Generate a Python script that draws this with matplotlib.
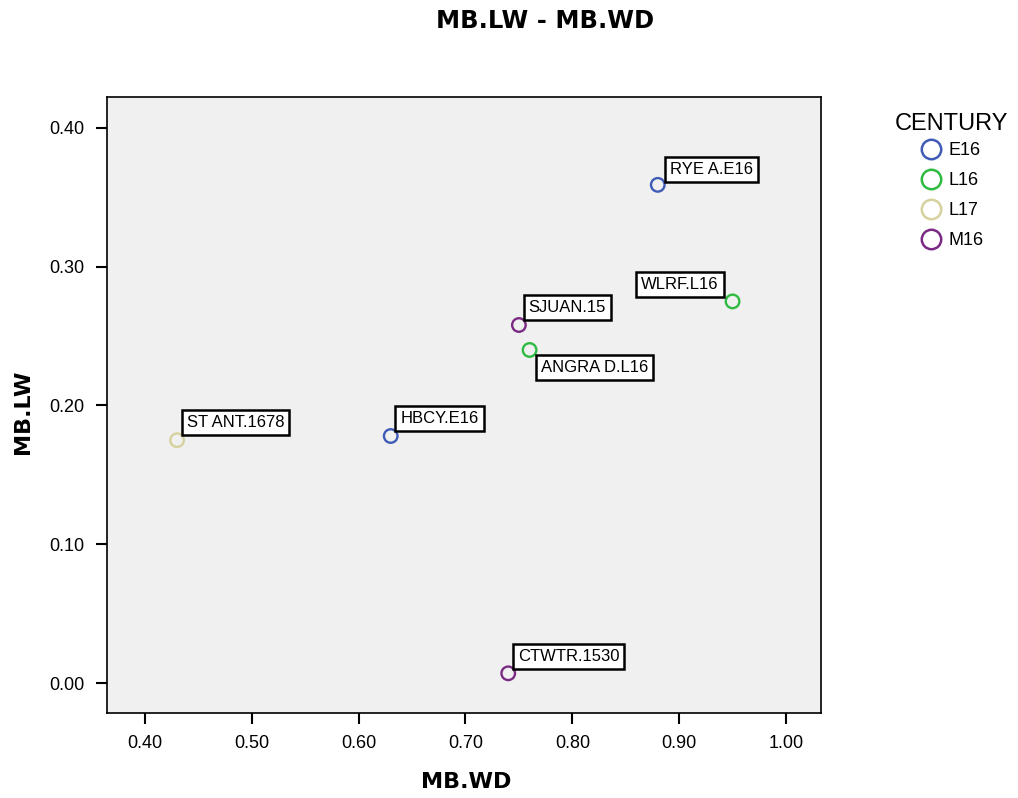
import matplotlib
matplotlib.use('Agg')
import matplotlib.pyplot as plt
from matplotlib.lines import Line2D

plt.rcParams['font.family'] = ['Liberation Sans', 'DejaVu Sans']

# data
names = ['RYE A.E16', 'WLRF.L16', 'SJUAN.15', 'ANGRA D.L16', 'HBCY.E16', 'ST ANT.1678', 'CTWTR.1530']
mb_wd = [0.88, 0.95, 0.75, 0.76, 0.63, 0.43, 0.74]
mb_lw = [0.359, 0.275, 0.258, 0.240, 0.178, 0.175, 0.007]
century = ['E16', 'L16', 'M16', 'L16', 'E16', 'L17', 'M16']

groups = ['E16', 'L16', 'L17', 'M16']
colors = {'E16': '#3f5bb6', 'L16': '#2fbb42', 'L17': '#d6d29e', 'M16': '#7a2a84'}

# label offsets (points) and alignment
offsets = [(9, 6, 'left', 'bottom'), (-10, 7, 'right', 'bottom'), (7, 7, 'left', 'bottom'),
           (8, -7, 'left', 'top'), (7, 7, 'left', 'bottom'), (7, 7, 'left', 'bottom'),
           (7, 7, 'left', 'bottom')]

fig = plt.figure(figsize=(10.18, 7.98), dpi=100)
ax = fig.add_axes([107/1018, 1-713/798, (821-107)/1018, (713-97)/798])
ax.set_facecolor('#f0f0f0')

for x, y, c in zip(mb_wd, mb_lw, century):
    ax.scatter(x, y, s=95, facecolors='none', edgecolors=colors[c], linewidths=1.7, zorder=3)

for n, x, y, (dx, dy, ha, va) in zip(names, mb_wd, mb_lw, offsets):
    ax.annotate(n, (x, y), xytext=(dx, dy), textcoords='offset points', ha=ha, va=va,
                fontsize=12, zorder=4,
                bbox=dict(boxstyle='square,pad=0.3', fc='white', ec='black', lw=1.8))

ax.set_xlim(0.3644, 1.0328)
ax.set_ylim(-0.0216, 0.4223)
ax.set_xticks([0.4, 0.5, 0.6, 0.7, 0.8, 0.9, 1.0])
ax.set_yticks([0.0, 0.1, 0.2, 0.3, 0.4])
ax.xaxis.set_major_formatter(plt.FormatStrFormatter('%.2f'))
ax.yaxis.set_major_formatter(plt.FormatStrFormatter('%.2f'))
ax.tick_params(direction='out', length=8, width=1.5, labelsize=13, pad=8)
for sp in ax.spines.values():
    sp.set_linewidth(1.2)

bold = ['DejaVu Sans']
fig.text(545/1018, 1-21/798, 'MB.LW - MB.WD', ha='center', va='center', fontsize=17.5,
         fontweight='bold', family=bold)
fig.text(466/1018, 1-782/798, 'MB.WD', ha='center', va='center', fontsize=16, fontweight='bold', family=bold)
fig.text(23/1018, 1-412/798, 'MB.LW', ha='center', va='center', fontsize=16, fontweight='bold',
         rotation=90, family=bold)

handles = [Line2D([], [], marker='o', ls='none', markersize=14, markerfacecolor='none',
                  markeredgecolor=colors[g], markeredgewidth=1.8) for g in groups]
leg = fig.legend(handles, groups, title='CENTURY', loc='upper left', bbox_to_anchor=(895/1018, 1-113/798),
                 frameon=False, fontsize=13, title_fontsize=17, handletextpad=0.3, labelspacing=0.72,
                 handlelength=1.3, borderaxespad=0, borderpad=0)
leg._legend_box.align = 'center'
leg._legend_box.sep = 5

fig.savefig('out.png', dpi=100)
